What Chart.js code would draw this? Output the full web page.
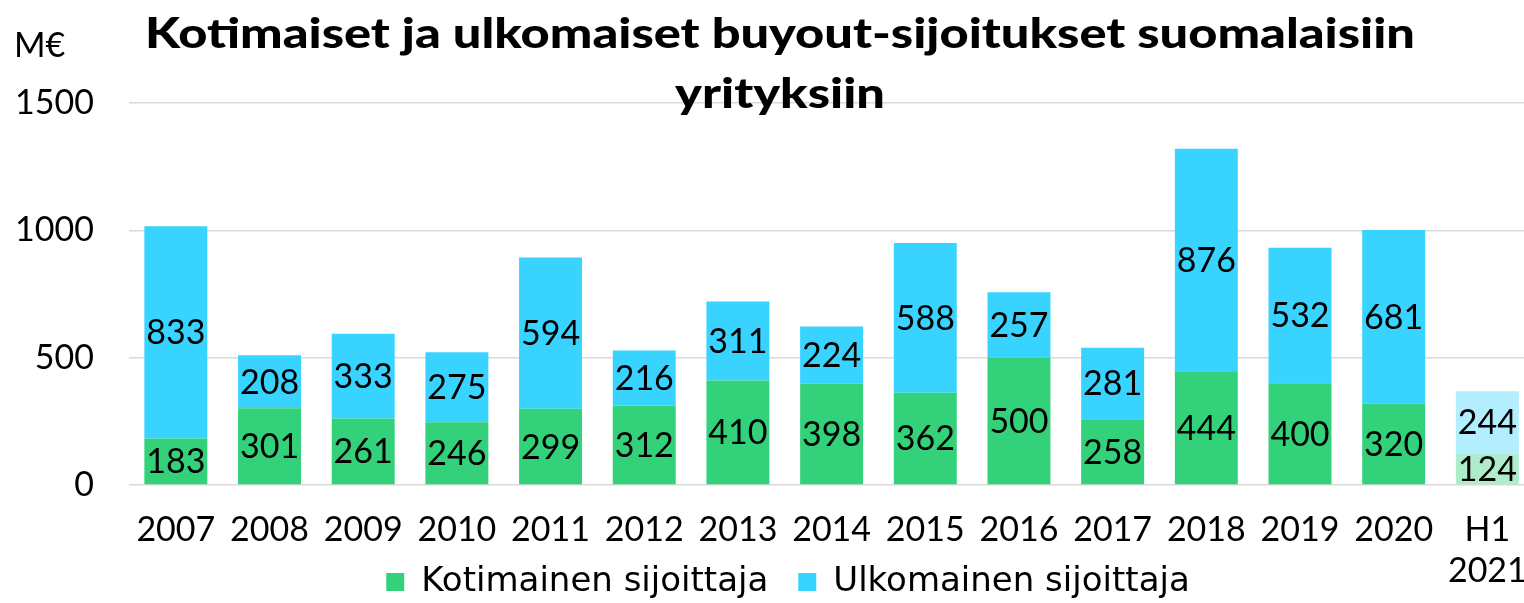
<!DOCTYPE html>
<html>
<head>
<meta charset="utf-8">
<script src="https://cdn.jsdelivr.net/npm/chart.js@4.4.1/dist/chart.umd.min.js"></script>
<style>
  html, body { margin: 0; padding: 0; background: #ffffff; overflow: hidden; }
  #wrap { position: relative; width: 1552px; height: 603px; }
  #chart { display: block; width: 1552px; height: 603px; }
</style>
</head>
<body>
<div id="wrap"><canvas id="chart" width="1552" height="603"></canvas></div>
<script>
const categories = ['2007','2008','2009','2010','2011','2012','2013','2014','2015','2016','2017','2018','2019','2020',['H1','2021']];
const domestic = [183, 301, 261, 246, 299, 312, 410, 398, 362, 500, 258, 444, 400, 320, 124];
const foreign  = [833, 208, 333, 275, 594, 216, 311, 224, 588, 257, 281, 876, 532, 681, 244];
const seriesNames = ['Kotimainen sijoittaja', 'Ulkomainen sijoittaja'];
const yTicks = [0, 500, 1000, 1500];
const titleLines = ['Kotimaiset ja ulkomaiset buyout-sijoitukset suomalaisiin', 'yrityksiin'];
const unitLabel = 'M€';

const FONT = 'Lato, "Open Sans", sans-serif';
const LEGEND_FONT = '"DejaVu Sans", sans-serif';
const GREEN = '#33D17A', GREEN_LIGHT = '#AEEDCB';
const BLUE = '#38D3FF', BLUE_LIGHT = '#B3EEFF';
const lastIdx = categories.length - 1;
const PLOT_BOTTOM = 485;
const CANVAS_H = 603;
const LEGEND_DX = 15;
const LEGEND_DY = 6;

const valueLabels = {
  id: 'valueLabels',
  afterDatasetsDraw(chart) {
    const ctx = chart.ctx;
    ctx.save();
    ctx.font = '34px ' + FONT;
    ctx.fillStyle = '#000';
    ctx.textAlign = 'center';
    ctx.textBaseline = 'middle';
    chart.data.datasets.forEach((ds, di) => {
      const meta = chart.getDatasetMeta(di);
      meta.data.forEach((el, i) => {
        const p = el.getProps(['x', 'y', 'base'], true);
        ctx.fillText(String(ds.data[i]), p.x, (p.y + p.base) / 2 + 1);
      });
    });
    ctx.restore();
  }
};

const legendShift = {
  id: 'legendShift',
  afterLayout(chart) {
    const lg = chart.legend;
    if (!lg) return;
    lg.left += LEGEND_DX; lg.right += LEGEND_DX;
    lg.top += LEGEND_DY; lg.bottom += LEGEND_DY;
  }
};

const titlePlugin = {
  id: 'titlePlugin',
  afterDraw(chart) {
    const ctx = chart.ctx;
    ctx.save();
    ctx.fillStyle = '#000';
    ctx.textBaseline = 'alphabetic';
    ctx.font = '900 42px ' + FONT;
    const w1 = ctx.measureText(titleLines[0]).width;
    const sx = 1270 / w1;
    const cx = 780;
    ctx.textAlign = 'center';
    [48, 108].forEach((by, k) => {
      ctx.save();
      ctx.translate(cx, by);
      ctx.scale(sx, 1);
      ctx.fillText(titleLines[k], 0, 0);
      ctx.restore();
    });
    ctx.font = '34px ' + FONT;
    ctx.textAlign = 'left';
    ctx.textBaseline = 'middle';
    ctx.fillText(unitLabel, 14, 46);
    ctx.restore();
  }
};

new Chart(document.getElementById('chart'), {
  type: 'bar',
  data: {
    labels: categories,
    datasets: [
      {
        label: seriesNames[0],
        data: domestic,
        backgroundColor: c => c.dataIndex === lastIdx ? GREEN_LIGHT : GREEN,
        borderWidth: 0,
        barPercentage: 0.672,
        categoryPercentage: 1.0
      },
      {
        label: seriesNames[1],
        data: foreign,
        backgroundColor: c => c.dataIndex === lastIdx ? BLUE_LIGHT : BLUE,
        borderWidth: 0,
        barPercentage: 0.672,
        categoryPercentage: 1.0
      }
    ]
  },
  options: {
    responsive: false,
    maintainAspectRatio: false,
    devicePixelRatio: 1,
    animation: false,
    layout: { padding: { top: 103, right: 6, left: 0, bottom: 0 } },
    plugins: {
      title: { display: false },
      tooltip: { enabled: false },
      legend: {
        position: 'bottom',
        labels: {
          generateLabels: chart => chart.data.datasets.map((ds, i) => ({
            text: ds.label,
            fillStyle: i === 0 ? GREEN : BLUE,
            strokeStyle: i === 0 ? GREEN : BLUE,
            lineWidth: 0,
            datasetIndex: i,
            fontColor: '#000'
          })),
          font: { family: LEGEND_FONT, size: 34 },
          color: '#000',
          boxWidth: 18,
          boxHeight: 18,
          padding: 30
        }
      }
    },
    scales: {
      x: {
        stacked: true,
        grid: { display: false, drawTicks: false },
        border: { display: false },
        ticks: { font: { family: FONT, size: 34 }, color: '#000', padding: 25, maxRotation: 0, autoSkip: false },
        afterFit: axis => {
          const lh = axis.chart.legend ? axis.chart.legend.height : 0;
          axis.height = Math.max(0, CANVAS_H - PLOT_BOTTOM - lh);
          axis._computeLabelArea = () => undefined;
        }
      },
      y: {
        stacked: true,
        min: 0,
        max: 1500,
        afterBuildTicks: axis => { axis.ticks = yTicks.map(v => ({ value: v })); },
        grid: { color: '#d9d9d9', lineWidth: 1.5, drawTicks: false },
        border: { display: false },
        ticks: { font: { family: FONT, size: 34 }, color: '#000', padding: 35, callback: v => String(v) },
        afterFit: axis => { axis.width = 129; }
      }
    }
  },
  plugins: [valueLabels, legendShift, titlePlugin]
});
</script>
</body>
</html>
